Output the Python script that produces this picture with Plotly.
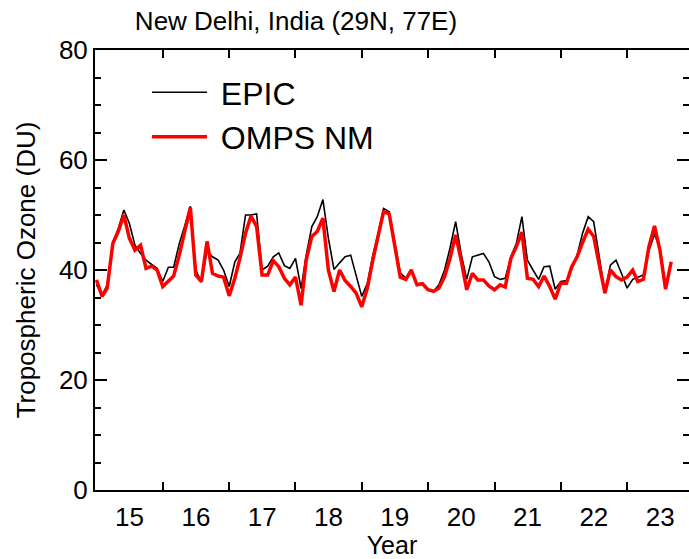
import pandas as pd
import plotly.graph_objects as go

title_text = "New Delhi, India (29N, 77E)"
x_title = "Year"
y_title = "Tropospheric Ozone (DU)"

start_month = "2015-01-01"

epic = [37.3, 35.5, 37.2, 45.0, 47.5, 50.9, 48.5, 44.5, 43.0, 41.8, 41.0, 40.3,
        37.9, 40.5, 40.5, 44.8, 48.0, 51.6, 40.0, 37.8, 43.5, 42.4, 41.8, 40.0,
        37.0, 41.5, 43.0, 50.0, 50.0, 50.2, 40.0, 40.7, 42.4, 43.1, 40.8, 40.3,
        42.1, 36.6, 42.7, 47.9, 49.7, 52.8, 45.8, 40.1, 41.3, 42.4, 42.7, 38.8,
        35.2, 37.6, 42.4, 46.7, 51.2, 50.6, 45.0, 39.5, 38.5, 40.0, 37.5, 37.6,
        36.4, 36.2, 37.3, 40.0, 44.0, 48.8, 43.0, 38.3, 42.4, 42.7, 43.0, 41.5,
        38.8, 38.3, 38.5, 42.4, 44.8, 49.7, 41.8, 40.0, 38.3, 40.6, 40.7, 36.5,
        37.9, 38.1, 40.0, 42.7, 46.7, 49.7, 48.8, 42.4, 35.8, 40.9, 41.8, 39.4,
        36.7, 38.3, 38.7, 39.1, 43.5, 46.5, 44.0, 37.0]

omps_nm = [38.2, 35.2, 36.7, 44.8, 47.0, 50.0, 45.8, 43.6, 44.5, 40.3, 40.7, 40.0,
           37.0, 37.9, 38.9, 42.7, 47.0, 51.4, 39.1, 37.9, 45.2, 39.4, 38.9, 38.7,
           35.3, 38.5, 42.1, 46.7, 49.8, 47.9, 39.1, 39.1, 41.7, 40.6, 38.5, 37.3,
           38.7, 33.6, 41.8, 46.1, 47.0, 49.4, 40.0, 36.1, 40.0, 38.1, 37.0, 35.8,
           33.3, 36.7, 41.5, 46.4, 50.6, 50.2, 44.6, 38.7, 38.3, 40.0, 37.3, 37.5,
           36.4, 36.1, 36.7, 38.8, 42.1, 46.4, 41.8, 36.4, 39.4, 38.2, 38.2, 37.1,
           36.4, 37.3, 36.9, 42.1, 44.2, 46.9, 38.5, 38.3, 37.0, 38.9, 37.0, 34.7,
           37.6, 37.6, 40.5, 42.4, 45.0, 47.4, 46.1, 40.6, 35.8, 40.0, 38.8, 38.2,
           38.7, 40.0, 37.9, 38.3, 44.2, 48.0, 43.6, 36.5, 41.5]

year_labels = ["15", "16", "17", "18", "19", "20", "21", "22", "23"]
label_dates = ["2015-07-02", "2016-07-02", "2017-07-02", "2018-07-02", "2019-07-02",
               "2020-07-02", "2021-07-02", "2022-07-02", "2023-07-02"]
year_bounds = ["2016-01-01", "2017-01-01", "2018-01-01", "2019-01-01",
               "2020-01-01", "2021-01-01", "2022-01-01", "2023-01-01"]
y_ticks = [0, 20, 40, 60, 80]

x_epic = pd.date_range(start_month, periods=len(epic), freq="MS")
x_omps = pd.date_range(start_month, periods=len(omps_nm), freq="MS")

FONT = "Liberation Sans, Arial, Helvetica, sans-serif"
NB = "\u00a0"

fig = go.Figure()
fig.add_trace(go.Scatter(x=x_epic, y=epic, mode="lines", name=NB + "EPIC",
                         line=dict(color="black", width=1.6)))
fig.add_trace(go.Scatter(x=x_omps, y=omps_nm, mode="lines", name=NB + "OMPS NM",
                         line=dict(color="#ff0000", width=3.5)))

fig.update_layout(
    width=689, height=559, autosize=False,
    margin=dict(l=95, r=0, t=50, b=69, autoexpand=False),
    paper_bgcolor="white", plot_bgcolor="white",
    font=dict(family=FONT, color="black", size=26),
    title=dict(text=title_text, x=296 / 689, xanchor="center", xref="container",
               y=1 - 21 / 559, yanchor="middle", yref="container",
               font=dict(size=26, family=FONT, color="black")),
    showlegend=True,
    legend=dict(x=0.0875, y=0.966, xanchor="left", yanchor="top",
                bgcolor="rgba(0,0,0,0)", borderwidth=0,
                font=dict(size=32, family=FONT, color="black"),
                itemwidth=55),
)

fig.update_xaxes(
    type="date", automargin=False,
    range=["2014-12-24", "2023-12-08"],
    tickmode="array", tickvals=label_dates, ticktext=year_labels,
    ticks="", ticklen=0,
    showline=True, linecolor="black", linewidth=2, mirror="ticks",
    showgrid=False, zeroline=False,
    tickfont=dict(size=26),
    ticklabelstandoff=3,
    minor=dict(tickmode="array", tickvals=year_bounds, ticks="inside",
               ticklen=8, tickwidth=2, tickcolor="black", showgrid=False),
    title=dict(text=x_title, font=dict(size=25), standoff=4),
)

fig.update_yaxes(
    automargin=False,
    range=[0, 80],
    tickmode="array", tickvals=y_ticks,
    ticks="inside", ticklen=12, tickwidth=2, tickcolor="black",
    showline=True, linecolor="black", linewidth=2, mirror="ticks",
    showgrid=False, zeroline=False,
    tickfont=dict(size=26),
    minor=dict(dtick=5, ticks="inside", ticklen=6, tickwidth=2,
               tickcolor="black", showgrid=False),
    title=dict(text=y_title, font=dict(size=26), standoff=16),
)

fig.write_html(
    "out.html",
    config={"responsive": False, "displayModeBar": False},
    default_width="689px",
    default_height="559px",
    post_script="document.body.style.margin='0px';document.body.style.overflow='hidden';",
)
